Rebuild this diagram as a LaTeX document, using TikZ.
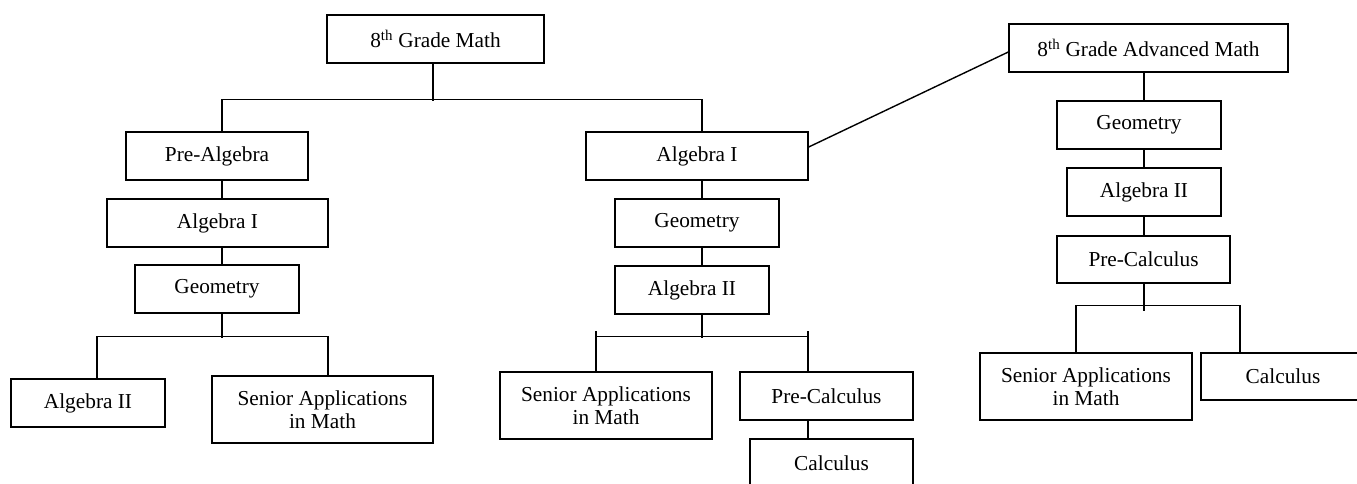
\documentclass[tikz,border=0pt]{standalone}
\usepackage{fontspec}
\setmainfont{Liberation Serif}
\begin{document}
\begin{tikzpicture}[x=1pt,y=1pt,
  box/.style={draw, line width=1.4pt, inner sep=0pt, align=center,
    font=\fontsize{21.3}{23.5}\selectfont},
  conn/.style={line width=1.4pt}]
\useasboundingbox (0,0) rectangle (1357,-483);
\clip (0,0) rectangle (1357,-483);
% left / centre tree
\node[box, minimum width=217, minimum height=48] (gm)   at (435.5,-39)   {8\textsuperscript{th} Grade Math};
\node[box, minimum width=182, minimum height=48] (pa)   at (217,-156)    {Pre-Algebra};
\node[box, minimum width=221, minimum height=48] (a1L)  at (217.5,-223)  {Algebra I};
\node[box, minimum width=164, minimum height=48] (geoL) at (217,-289)    {Geometry};
\node[box, minimum width=154, minimum height=48] (a2L)  at (88,-403)     {Algebra II};
\node[box, minimum width=221, minimum height=67] (saL)  at (322.5,-409.5){Senior Applications\\in Math};
\node[box, minimum width=222, minimum height=48] (a1M)  at (697,-156)    {Algebra I};
\node[box, minimum width=164, minimum height=48] (geoM) at (697,-223)    {Geometry};
\node[box, minimum width=154, minimum height=48] (a2M)  at (692,-290)    {Algebra II};
\node[box, minimum width=212, minimum height=67] (saM)  at (606,-405.5)  {Senior Applications\\in Math};
\node[box, minimum width=173, minimum height=48] (pcM)  at (826.5,-396)  {Pre-Calculus};
\node[box, minimum width=163, minimum height=48] (calM) at (831.5,-463)  {Calculus};
% right tree
\node[box, minimum width=279, minimum height=48] (adv)  at (1148.5,-48)  {8\textsuperscript{th} Grade Advanced Math};
\node[box, minimum width=164, minimum height=48] (geoR) at (1139,-125)   {Geometry};
\node[box, minimum width=154, minimum height=48] (a2R)  at (1144,-192)   {Algebra II};
\node[box, minimum width=173, minimum height=47] (pcR)  at (1143.5,-259.5){Pre-Calculus};
\node[box, minimum width=212, minimum height=67] (saR)  at (1086,-386.5) {Senior Applications\\in Math};
\node[box, minimum width=164, minimum height=47] (calR) at (1283,-376.5) {Calculus};
% connectors
\draw[conn] ([xshift=-2.5]gm.south) -- ++(0,-37);
\draw[conn] ([xshift=5]pa.north) -- ++(0,32) -| ([xshift=5]a1M.north);
\draw[conn] ([xshift=5]pa.south) -- ++(0,-19);
\draw[conn] ([xshift=4.5]a1L.south) -- ++(0,-18);
\draw[conn] ([xshift=5]geoL.south) -- ++(0,-24);
\draw[conn] ([xshift=9]a2L.north) -- ++(0,42) -| ([xshift=5.5]saL.north);
\draw[conn] ([xshift=5]a1M.south) -- ++(0,-19);
\draw[conn] ([xshift=5]geoM.south) -- ++(0,-19);
\draw[conn] ([xshift=10]a2M.south) -- ++(0,-23);
\draw[conn] ([xshift=-10]saM.north) -- ++(0,40);
\draw[conn] ([xshift=-18.5]pcM.north) -- ++(0,40);
\draw[conn] ([xshift=-10,yshift=35]saM.north) -- ([xshift=-18.5,yshift=35]pcM.north);
\draw[conn] ([xshift=-18.5]pcM.south) -- ++(0,-19);
\draw[conn] ([yshift=9]a1M.east) -- ([yshift=-4]adv.west);
\draw[conn] ([xshift=-4.5]adv.south) -- ++(0,-29);
\draw[conn] ([xshift=5]geoR.south) -- ++(0,-19);
\draw[conn] (a2R.south) -- ++(0,-20);
\draw[conn] ([xshift=.5]pcR.south) -- ++(0,-27);
\draw[conn] ([xshift=-10]saR.north) -- ++(0,47) -| ([xshift=-43]calR.north);
\end{tikzpicture}
\end{document}
